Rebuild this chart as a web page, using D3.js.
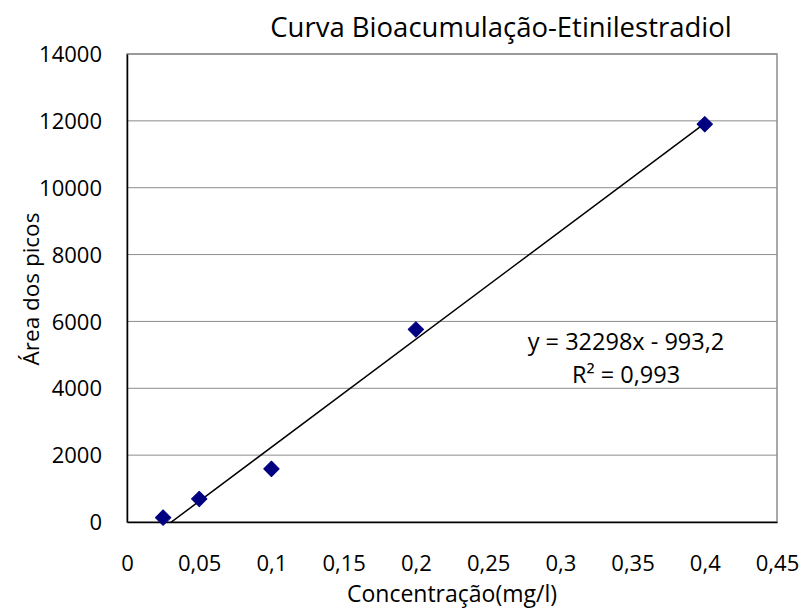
<!DOCTYPE html>
<html><head><meta charset="utf-8">
<script src="https://cdn.jsdelivr.net/npm/d3@7"></script>
<style>body{margin:0;background:#fff}svg{display:block}text{font-family:"Open Sans",sans-serif;fill:#000}</style>
</head><body>
<script>
const concentrations = [0.025, 0.05, 0.1, 0.2, 0.4];
const peakAreas = [130, 690, 1590, 5760, 11900];
const xTicks = [0, 0.05, 0.1, 0.15, 0.2, 0.25, 0.3, 0.35, 0.4, 0.45];
const yTicks = [0, 2000, 4000, 6000, 8000, 10000, 12000, 14000];
const slope = 32298, intercept = -993.2, r2 = 0.993;

const W = 802, H = 608;
const m = {left: 127, top: 54, right: 25, bottom: 86};
const svg = d3.select("body").append("svg").attr("width", W).attr("height", H);
const x = d3.scaleLinear().domain([0, 0.45]).range([m.left, W - m.right]);
const y = d3.scaleLinear().domain([0, 14000]).range([H - m.bottom, m.top]);
const fmt = d => String(d).replace(".", ",");
const FONT = "'Open Sans', sans-serif";

// gridlines
svg.append("g").selectAll("line").data(yTicks.slice(1)).join("line")
  .attr("x1", x(0)).attr("x2", x(0.45)).attr("y1", d => y(d)).attr("y2", d => y(d))
  .attr("stroke", "#8c8c8c").attr("stroke-width", 1);
// plot frame
svg.append("rect").attr("x", x(0)).attr("y", y(14000))
  .attr("width", x(0.45) - x(0)).attr("height", y(0) - y(14000))
  .attr("fill", "none").attr("stroke", "#8c8c8c").attr("stroke-width", 1.5);

// axes
const xAxis = svg.append("g").attr("transform", `translate(0,${y(0)})`)
  .call(d3.axisBottom(x).tickValues(xTicks).tickFormat(fmt).tickSize(0).tickPadding(33));
const yAxis = svg.append("g").attr("transform", `translate(${x(0)},0)`)
  .call(d3.axisLeft(y).tickValues(yTicks).tickFormat(d => d).tickSize(0).tickPadding(25));
[xAxis, yAxis].forEach(g => {
  g.select(".domain").attr("stroke", "#000").attr("stroke-width", 1.5);
  g.selectAll("text").attr("font-size", 22).attr("font-family", FONT);
});
yAxis.selectAll("text").attr("dy", "0.35em");

// trend line, clipped to the plot area
svg.append("clipPath").attr("id", "plot").append("rect")
  .attr("x", x(0)).attr("y", y(14000)).attr("width", x(0.45) - x(0)).attr("height", y(0) - y(14000));
const x0 = d3.min(concentrations), x1 = d3.max(concentrations);
svg.append("line").attr("clip-path", "url(#plot)")
  .attr("x1", x(x0)).attr("y1", y(slope * x0 + intercept))
  .attr("x2", x(x1)).attr("y2", y(slope * x1 + intercept))
  .attr("stroke", "#000").attr("stroke-width", 1.5);

// data markers
const pts = concentrations.map((c, i) => [c, peakAreas[i]]);
svg.append("g").selectAll("path").data(pts).join("path")
  .attr("d", d3.symbol(d3.symbolSquare, 118))
  .attr("transform", d => `translate(${x(d[0])},${y(d[1])}) rotate(45)`)
  .attr("fill", "#000080").attr("stroke", "#000080").attr("stroke-width", 1).attr("stroke-linejoin", "round");

// equation
svg.append("text").attr("x", 626).attr("y", 350).attr("text-anchor", "middle").attr("font-size", 23.5)
  .text(`y = ${slope}x - ${fmt(Math.abs(intercept))}`);
svg.append("text").attr("x", 626).attr("y", 383).attr("text-anchor", "middle").attr("font-size", 23.5)
  .text(`R² = ${fmt(r2)}`);

// titles
svg.append("text").attr("x", 501).attr("y", 37).attr("text-anchor", "middle").attr("font-size", 27.5)
  .text("Curva Bioacumulação-Etinilestradiol");
svg.append("text").attr("x", 452).attr("y", 602).attr("text-anchor", "middle").attr("font-size", 23)
  .text("Concentração(mg/l)");
svg.append("text").attr("transform", "translate(39,289) rotate(-90)").attr("text-anchor", "middle").attr("font-size", 22.5)
  .text("Área dos picos");
</script>
</body></html>
